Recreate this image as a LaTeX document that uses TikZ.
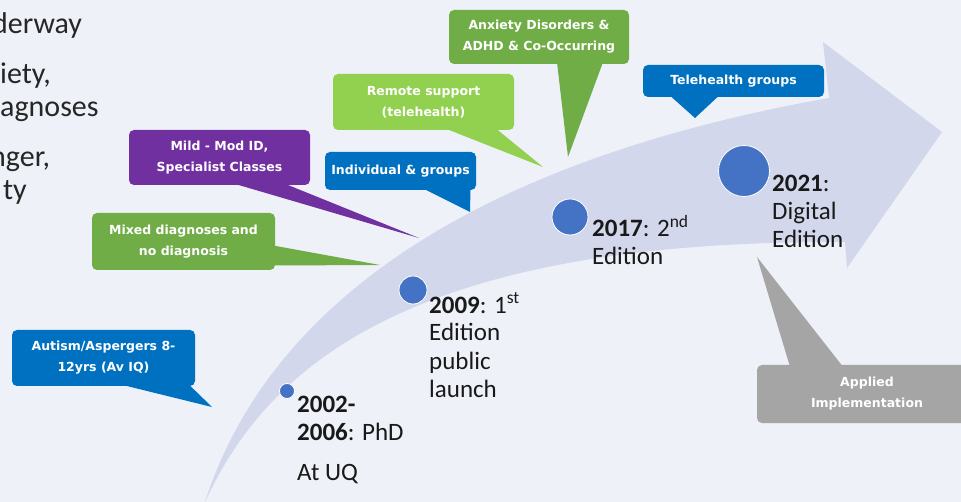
\documentclass[tikz,border=0pt]{standalone}
\usepackage{fontspec}
\setmainfont{Carlito}
\newfontfamily\calloutfont{DejaVu Sans}
\usetikzlibrary{calc}
\definecolor{bgblue}{HTML}{EEF1F8}
\definecolor{band}{HTML}{D2D7EB}
\definecolor{cgreen}{HTML}{70AD47}
\definecolor{clime}{HTML}{92D050}
\definecolor{cpurple}{HTML}{7030A0}
\definecolor{cblue}{HTML}{0070C0}
\definecolor{cgray}{HTML}{A5A5A5}
\definecolor{dotblue}{HTML}{4472C4}
\begin{document}
\begin{tikzpicture}[x=1pt, y=-1pt,
    callout/.style={rounded corners=5pt, text=white, align=center, inner sep=0pt,
                    font=\calloutfont\bfseries\fontsize{12.5}{21}\selectfont},
    milestone/.style={circle, fill=dotblue, draw=white, line width=0.8pt, inner sep=0pt},
    label/.style={anchor=base west, align=left, inner sep=0pt, text=black!90,
                  font=\fontsize{25}{28}\selectfont},
    bullet/.style={anchor=base west, inner sep=0pt, text=black!85,
                   font=\fontsize{30}{33}\selectfont}]
	\useasboundingbox (0,0) rectangle (961,502);
	\fill[bgblue] (0,0) rectangle (961,502);

	% curved timeline arrow
	\fill[band] (205,502) .. controls (270,300) and (480,160) .. (829,98)
		-- (823,42) -- (942,132) -- (847,268) -- (845,242)
		.. controls (420,240) and (270,360) .. (205,502) -- cycle;

	% text cut off at the left edge
	\node[bullet] (b1) at (-8,34) {derway};
	\node[bullet] (b2) at (-13,84) {xiety,};
	\node[bullet] (b3) at (0,117) {agnoses};
	\node[bullet] (b4) at (-10,167) {nger,};
	\node[bullet] (b5) at (3,200) {ty};

	% callouts
	\node[callout, fill=cgreen, minimum width=180pt, minimum height=54pt] (c1) at (539,37)
		{Anxiety Disorders \&\\ADHD \& Co-Occurring};
	\node[callout, fill=clime, minimum width=181pt, minimum height=56pt] (c2) at (423.5,102)
		{Remote support\\(telehealth)};
	\node[callout, fill=cpurple, minimum width=181pt, minimum height=55pt] (c3) at (219.5,157.5)
		{Mild - Mod ID,\\Specialist Classes};
	\node[callout, fill=cblue, minimum width=151pt, minimum height=38pt] (c4) at (400.5,171)
		{Individual \& groups};
	\node[callout, fill=cgreen, minimum width=183pt, minimum height=57pt] (c5) at (183.5,241.5)
		{Mixed diagnoses and\\no diagnosis};
	\node[callout, fill=cblue, minimum width=183pt, minimum height=56pt] (c6) at (103.5,358)
		{Autism/Aspergers 8-\\12yrs (Av IQ)};
	\node[callout, fill=cblue, minimum width=181pt, minimum height=32pt] (c7) at (733.5,81)
		{Telehealth groups};
	\node[callout, fill=cgray, minimum width=220pt, minimum height=58pt] (c8) at (867,394)
		{Applied\\Implementation};

	\coordinate (p1) at (568,157);
	\coordinate (p2) at (543,167);
	\coordinate (p3) at (419,238);
	\coordinate (p4) at (470,212);
	\coordinate (p5) at (380,265);
	\coordinate (p6) at (212,407);
	\coordinate (p7) at (695,118);
	\coordinate (p8) at (757,257);

	\fill[cgreen]  ($(c1.south)+(18,-2)$) -- (p1) -- ($(c1.south)+(64,-2)$) -- cycle;
	\fill[clime]   ($(c2.south)+(21,-2)$) -- (p2) -- ($(c2.south)+(72,-2)$) -- cycle;
	\fill[cpurple] ($(c3.south)+(13,-2)$) -- (p3) -- ($(c3.south)+(64,-2)$) -- cycle;
	\fill[cblue]   ($(c4.south)+(22,-2)$) -- (p4) -- ($(c4.south)+(70,-2)$) -- cycle;
	\fill[cgreen]  ($(c5.east)+(-2,4)$) -- (p5) -- ($(c5.east)+(-2,24)$) -- cycle;
	\fill[cblue]   ($(c6.south)+(16,-2)$) -- (p6) -- ($(c6.south)+(85,-2)$) -- cycle;
	\fill[cblue]   ($(c7.south)+(-64,-2)$) -- (p7) -- ($(c7.south)+(-14,-2)$) -- cycle;
	\fill[cgray]   ($(c8.north)+(-77,2)$) -- (p8) -- ($(c8.north)+(-24,2)$) -- cycle;

	% milestones
	\node[milestone, minimum size=15pt] (d1) at (287,391) {};
	\node[milestone, minimum size=28pt] (d2) at (413,290) {};
	\node[milestone, minimum size=36pt] (d3) at (570,217) {};
	\node[milestone, minimum size=51pt] (d4) at (744,171) {};

	\node[label] (t1) at (297,480) {\textbf{2002-}\\\textbf{2006}: PhD\\[12pt]At UQ};
	\node[label] (t2) at (429,397) {\textbf{2009}: 1\textsuperscript{st}\\Edition\\public\\launch};
	\node[label] (t3) at (592,265) {\textbf{2017}: 2\textsuperscript{nd}\\Edition};
	\node[label] (t4) at (772,248) {\textbf{2021}:\\Digital\\Edition};
\end{tikzpicture}
\end{document}
